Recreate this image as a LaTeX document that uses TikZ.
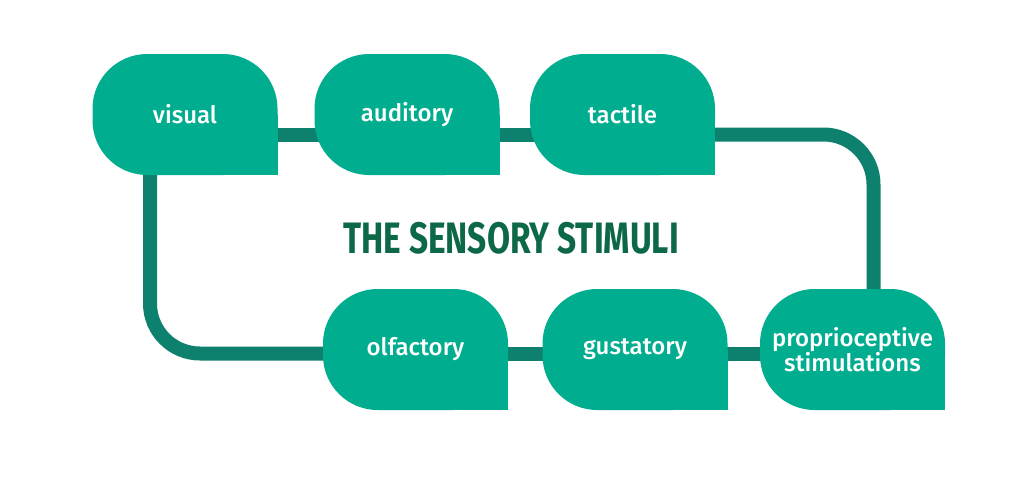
\documentclass[tikz,border=0pt]{standalone}
\usepackage{fontspec}
\setmainfont{Fira Sans}
\newfontfamily\labelfont{Fira Sans Medium}
\usepackage{graphicx}
\usetikzlibrary{positioning,calc,backgrounds}
\definecolor{boxgreen}{RGB}{0,173,142}
\definecolor{linegreen}{RGB}{14,128,110}
\definecolor{titlegreen}{RGB}{12,104,70}

\begin{document}
\begin{tikzpicture}[x=0.75pt, y=-0.75pt,
    box/.style={rectangle, fill=boxgreen, rounded corners=41pt, minimum width=138.75pt, minimum height=90.75pt, inner sep=0pt, align=center, text=white, font=\labelfont\fontsize{18}{19}\selectfont},
    link/.style={draw=linegreen, line width=10.5pt, rounded corners=37.5pt},
    corner/.style={fill=boxgreen}
]
    \useasboundingbox (0,0) rectangle (1024,480);

    % Top row
    \node[box] (visual) at (185,114.5) {visual};
    \node[box] (auditory) at (407,114.5) {auditory};
    \node[box] (tactile) at (622.5,114.5) {tactile};

    % Bottom row
    \node[box] (olfactory) at (415.5,349.5) {olfactory};
    \node[box] (gustatory) at (635,349.5) {gustatory};
    \node[box] (proprio) at (852.5,349.5) {proprioceptive\\stimulations};

    % Title
    \node[font=\fontsize{33}{33}\selectfont\bfseries, text=titlegreen] (title) at (511,238) {\scalebox{0.76}[1]{THE SENSORY STIMULI}};

    \begin{scope}[on background layer]
        \fill[white] (0,0) rectangle (1024,480);

        % Connections
        \draw[link] ($(visual.center)+(0,20)$) -- ($(auditory.center)+(0,20)$);
        \draw[link] ($(auditory.center)+(0,20)$) -- ($(tactile.center)+(0,20)$);
        \draw[link] ($(tactile.center)+(0,20)$) -| ($(proprio.center)+(21,0)$);
        \draw[link] ($(visual.center)+(-35,0)$) |- ($(olfactory.center)+(0,4)$);
        \draw[link] ($(olfactory.center)+(0,4)$) -- ($(gustatory.center)+(0,4)$);
        \draw[link] ($(gustatory.center)+(0,4)$) -- ($(proprio.center)+(0,4)$);

        % Square corners
        \fill[corner] ($(visual.south east)+(-60,-60)$) rectangle (visual.south east);
        \fill[corner] ($(auditory.south east)+(-60,-60)$) rectangle (auditory.south east);
        \fill[corner] ($(tactile.south east)+(-60,-60)$) rectangle (tactile.south east);
        \fill[corner] ($(olfactory.south east)+(-60,-60)$) rectangle (olfactory.south east);
        \fill[corner] ($(gustatory.south east)+(-60,-60)$) rectangle (gustatory.south east);
        \fill[corner] ($(proprio.south east)+(-60,-60)$) rectangle (proprio.south east);
    \end{scope}
\end{tikzpicture}
\end{document}
